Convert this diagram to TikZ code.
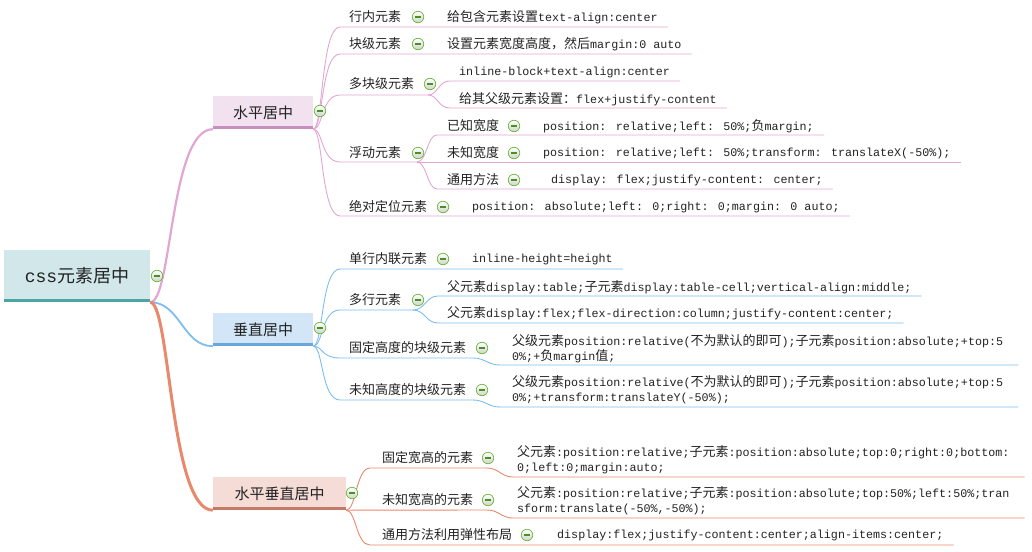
\documentclass[tikz,border=0pt]{standalone}
\usepackage{fontspec}
\setmainfont{Liberation Mono}
\newfontfamily\cjkfont{Noto Sans CJK SC}
\newcommand\zh[1]{{\cjkfont\fontsize{13}{15}\selectfont#1}}
\usetikzlibrary{backgrounds}
\definecolor{txt}{HTML}{222222}
\definecolor{rootF}{HTML}{D1E7EA}
\definecolor{rootB}{HTML}{4BA5A2}
\definecolor{hF}{HTML}{F2E1EF}
\definecolor{hB}{HTML}{C68FBE}
\definecolor{vF}{HTML}{D2E6F8}
\definecolor{vB}{HTML}{6BA6D9}
\definecolor{hvF}{HTML}{F5DCD7}
\definecolor{hvB}{HTML}{C47A69}
\definecolor{pinkL}{HTML}{E2A6D4}
\definecolor{blueL}{HTML}{7DBEF0}
\definecolor{orangeL}{HTML}{E8886C}
\definecolor{iconB}{HTML}{6EB43F}
\definecolor{iconF}{HTML}{CCD6C4}
\definecolor{iconM}{HTML}{4C8E2B}
\begin{document}
\begin{tikzpicture}[x=1pt,y=-1pt,
  l1box/.style={inner sep=0pt, text=txt, font=\cjkfont\fontsize{15}{17}\selectfont, minimum height=33pt},
  lbl/.style={anchor=west, inner sep=0pt, text=txt, font=\cjkfont\fontsize{13}{15}\selectfont},
  leaf/.style={anchor=west, inner sep=0pt, text=txt, align=left, font=\fontsize{11.7}{15}\selectfont},
  icon/.style={circle, draw=iconB, line width=0.7pt, minimum size=11.5pt, inner sep=0pt,
    top color=white, bottom color=iconF,
    path picture={\draw[iconM, line width=1.4pt] ([xshift=-3pt]path picture bounding box.center) -- ([xshift=3pt]path picture bounding box.center);}},
  pk/.style={draw=pinkL, line width=0.9pt},
  bl/.style={draw=blueL, line width=0.9pt},
  og/.style={draw=orangeL, line width=0.9pt}
]
\useasboundingbox (0,0) rectangle (1032,551);

% ---------- root ----------
\node[inner sep=0pt, fill=rootF, minimum width=146pt, minimum height=52pt, text=txt,
  font=\cjkfont\fontsize{18}{20}\selectfont] (root) at (77,276) {{\fontspec{Liberation Mono}css}元素居中};
\draw[rootB, line width=3pt] ([yshift=1.5pt]root.south west) -- ([yshift=1.5pt]root.south east);
\node[icon] (rooti) at (157,276) {};

% ---------- level 1 ----------
\node[l1box, fill=hF, minimum width=100pt] (h) at (263,112.5) {水平居中};
\draw[hB, line width=3pt] ([yshift=1.5pt]h.south west) -- ([yshift=1.5pt]h.south east);
\node[icon] (hi) at (320,111) {};

\node[l1box, fill=vF, minimum width=100pt] (v) at (263,329.5) {垂直居中};
\draw[vB, line width=3pt] ([yshift=1.5pt]v.south west) -- ([yshift=1.5pt]v.south east);
\node[icon] (vi) at (320,328) {};

\node[l1box, fill=hvF, minimum width=133pt] (hv) at (279.5,493.5) {水平垂直居中};
\draw[hvB, line width=3pt] ([yshift=1.5pt]hv.south west) -- ([yshift=1.5pt]hv.south east);
\node[icon] (hvi) at (352,493) {};

% ---------- 水平居中 ----------
\node[lbl] (h1) at (349,17) {行内元素};
\node[icon] (h1i) at (418,17) {};
\node[leaf] (h1l) at (447,17) {\zh{给包含元素设置}text-align:center};
\coordinate (h1u) at (340,27);

\node[lbl] (h2) at (349,44) {块级元素};
\node[icon] (h2i) at (418,44) {};
\node[leaf] (h2l) at (447,44) {\zh{设置元素宽度高度，然后}margin:0 auto};
\coordinate (h2u) at (340,54);

\node[lbl] (h3) at (349,84) {多块级元素};
\node[icon] (h3i) at (430,84) {};
\coordinate (h3u) at (340,95);
\coordinate (h3j) at (428,95);
\node[leaf] (h3a) at (459,72) {inline-block+text-align:center};
\coordinate (h3au) at (450,81);
\node[leaf] (h3b) at (459,99) {\zh{给其父级元素设置：}flex+justify-content};
\coordinate (h3bu) at (450,108);

\node[lbl] (h4) at (349,153) {浮动元素};
\node[icon] (h4i) at (418,153) {};
\coordinate (h4u) at (340,162);
\coordinate (h4j) at (417,162);
\node[lbl] (h4a) at (447,126) {已知宽度};
\node[icon] (h4ai) at (514,126) {};
\node[leaf] (h4al) at (543,126) {position: relative;left: 50\%;\zh{负}margin;};
\coordinate (h4au) at (437,135);
\node[lbl] (h4b) at (447,153) {未知宽度};
\node[icon] (h4bi) at (514,153) {};
\node[leaf] (h4bl) at (543,153) {position: relative;left: 50\%;transform: translateX(-50\%);};
\node[lbl] (h4c) at (447,180) {通用方法};
\node[icon] (h4ci) at (514,180) {};
\node[leaf] (h4cl) at (551,180) {display: flex;justify-content: center;};
\coordinate (h4cu) at (437,189);

\node[lbl] (h5) at (349,207) {绝对定位元素};
\node[icon] (h5i) at (443,207) {};
\node[leaf] (h5l) at (472,207) {position: absolute;left: 0;right: 0;margin: 0 auto;};
\coordinate (h5u) at (340,216);

% ---------- 垂直居中 ----------
\node[lbl] (v1) at (349,259) {单行内联元素};
\node[icon] (v1i) at (443,259) {};
\node[leaf] (v1l) at (472,259) {inline-height=height};
\coordinate (v1u) at (340,269);

\node[lbl] (v2) at (349,300) {多行元素};
\node[icon] (v2i) at (418,300) {};
\coordinate (v2u) at (340,310);
\coordinate (v2j) at (413,310);
\node[leaf] (v2a) at (447,287) {\zh{父元素}display:table;\zh{子元素}display:table-cell;vertical-align:middle;};
\coordinate (v2au) at (438,296);
\node[leaf] (v2b) at (447,313) {\zh{父元素}display:flex;flex-direction:column;justify-content:center;};
\coordinate (v2bu) at (438,323);

\node[lbl] (v3) at (349,348) {固定高度的块级元素};
\node[icon] (v3i) at (482,348) {};
\coordinate (v3u) at (340,358);
\coordinate (v3j) at (473,358);
\node[leaf] (v3l) at (512,348.5) {\zh{父级元素}position:relative(\zh{不为默认的即可});\zh{子元素}position:absolute;+top:5\\0\%;+\zh{负}margin\zh{值};};
\coordinate (v3lu) at (500,365);

\node[lbl] (v4) at (349,390) {未知高度的块级元素};
\node[icon] (v4i) at (482,390) {};
\coordinate (v4u) at (340,400);
\coordinate (v4j) at (473,400);
\node[leaf] (v4l) at (512,390) {\zh{父级元素}position:relative(\zh{不为默认的即可});\zh{子元素}position:absolute;+top:5\\0\%;+transform:translateY(-50\%);};
\coordinate (v4lu) at (500,407);

% ---------- 水平垂直居中 ----------
\node[lbl] (hv1) at (382,458) {固定宽高的元素};
\node[icon] (hv1i) at (488,458) {};
\coordinate (hv1u) at (370,468);
\coordinate (hv1j) at (487,468);
\node[leaf] (hv1l) at (517,459.5) {\zh{父元素}:position:relative;\zh{子元素}:position:absolute;top:0;right:0;bottom:\\0;left:0;margin:auto;};
\coordinate (hv1lu) at (513,477);

\node[lbl] (hv2) at (382,500) {未知宽高的元素};
\node[icon] (hv2i) at (488,500) {};
\coordinate (hv2j) at (487,510);
\node[leaf] (hv2l) at (517,501) {\zh{父元素}:position:relative;\zh{子元素}:position:absolute;top:50\%;left:50\%;tran\\sform:translate(-50\%,-50\%);};
\coordinate (hv2lu) at (513,518);

\node[lbl] (hv3) at (382,535) {通用方法利用弹性布局};
\node[icon] (hv3i) at (527,535) {};
\node[leaf] (hv3l) at (557,535) {display:flex;justify-content:center;align-items:center;};
\coordinate (hv3u) at (370,545);

% ---------- connectors ----------
\begin{pgfonlayer}{background}
% root branches
\draw[pinkL, line width=2.2pt] (root.south east) .. controls ([xshift=22pt]root.south east) and ([xshift=-43pt]h.south west) .. (h.south west);
\draw[blueL, line width=1.8pt] (root.south east) .. controls ([xshift=30pt]root.south east) and ([xshift=-30pt]v.south west) .. (v.south west);
\draw[orangeL, line width=3pt] (root.south east) .. controls ([xshift=20pt]root.south east) and ([xshift=-43pt]hv.south west) .. (hv.south west);

% 水平居中
\draw[pk] (h.south east) .. controls ([xshift=10pt]h.south east) and ([xshift=-19pt]h1u) .. (h1u) -- ([xshift=10pt]h1l.east |- h1u);
\draw[pk] (h.south east) .. controls ([xshift=10pt]h.south east) and ([xshift=-19pt]h2u) .. (h2u) -- ([xshift=10pt]h2l.east |- h2u);
\draw[pk] (h.south east) .. controls ([xshift=10pt]h.south east) and ([xshift=-19pt]h3u) .. (h3u) -- (h3j);
\draw[pk] (h3j) .. controls ([xshift=10pt]h3j) and ([xshift=-12pt]h3au) .. (h3au) -- ([xshift=10pt]h3a.east |- h3au);
\draw[pk] (h3j) .. controls ([xshift=10pt]h3j) and ([xshift=-12pt]h3bu) .. (h3bu) -- ([xshift=10pt]h3b.east |- h3bu);
\draw[pk] (h.south east) .. controls ([xshift=10pt]h.south east) and ([xshift=-19pt]h4u) .. (h4u) -- (h4j);
\draw[pk] (h4j) .. controls ([xshift=10pt]h4j) and ([xshift=-10pt]h4au) .. (h4au) -- ([xshift=10pt]h4al.east |- h4au);
\draw[pk] (h4j) -- ([xshift=10pt]h4bl.east |- h4j);
\draw[pk] (h4j) .. controls ([xshift=10pt]h4j) and ([xshift=-10pt]h4cu) .. (h4cu) -- ([xshift=10pt]h4cl.east |- h4cu);
\draw[pk] (h.south east) .. controls ([xshift=10pt]h.south east) and ([xshift=-19pt]h5u) .. (h5u) -- ([xshift=10pt]h5l.east |- h5u);

% 垂直居中
\draw[bl] (v.south east) .. controls ([xshift=10pt]v.south east) and ([xshift=-19pt]v1u) .. (v1u) -- ([xshift=10pt]v1l.east |- v1u);
\draw[bl] (v.south east) .. controls ([xshift=10pt]v.south east) and ([xshift=-19pt]v2u) .. (v2u) -- (v2j);
\draw[bl] (v2j) .. controls ([xshift=12pt]v2j) and ([xshift=-12pt]v2au) .. (v2au) -- ([xshift=10pt]v2a.east |- v2au);
\draw[bl] (v2j) .. controls ([xshift=12pt]v2j) and ([xshift=-12pt]v2bu) .. (v2bu) -- ([xshift=10pt]v2b.east |- v2bu);
\draw[bl] (v.south east) .. controls ([xshift=10pt]v.south east) and ([xshift=-19pt]v3u) .. (v3u) -- (v3j);
\draw[bl] (v3j) .. controls ([xshift=12pt]v3j) and ([xshift=-12pt]v3lu) .. (v3lu) -- ([xshift=15pt]v3l.east |- v3lu);
\draw[bl] (v.south east) .. controls ([xshift=10pt]v.south east) and ([xshift=-19pt]v4u) .. (v4u) -- (v4j);
\draw[bl] (v4j) .. controls ([xshift=12pt]v4j) and ([xshift=-12pt]v4lu) .. (v4lu) -- ([xshift=15pt]v4l.east |- v4lu);

% 水平垂直居中
\draw[og] (hv.south east) .. controls ([xshift=10pt]hv.south east) and ([xshift=-14pt]hv1u) .. (hv1u) -- (hv1j);
\draw[og] (hv1j) .. controls ([xshift=12pt]hv1j) and ([xshift=-12pt]hv1lu) .. (hv1lu) -- ([xshift=15pt]hv1l.east |- hv1lu);
\draw[og] (hv.south east) -- (hv2j);
\draw[og] (hv2j) .. controls ([xshift=12pt]hv2j) and ([xshift=-12pt]hv2lu) .. (hv2lu) -- ([xshift=15pt]hv2l.east |- hv2lu);
\draw[og] (hv.south east) .. controls ([xshift=10pt]hv.south east) and ([xshift=-14pt]hv3u) .. (hv3u) -- ([xshift=10pt]hv3l.east |- hv3u);
\end{pgfonlayer}
\end{tikzpicture}
\end{document}
